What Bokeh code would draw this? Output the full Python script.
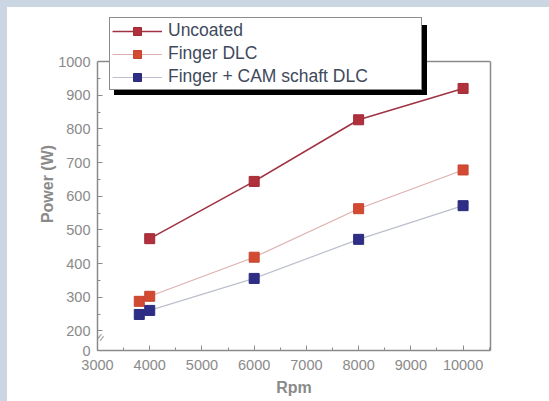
import math
from bokeh.plotting import figure
from bokeh.models import (ColumnDataSource, Legend, LegendItem, FixedTicker, Label, Spacer,
                          LinearAxis, Span, Title)
from bokeh.layouts import row, column
from bokeh.embed import file_html
from bokeh.resources import INLINE

# ---- data ----
rpm_uncoated = [4000, 6000, 8000, 10000]
power_uncoated = [474, 644, 827, 920]
rpm_finger = [3800, 4000, 6000, 8000, 10000]
power_finger_dlc = [288, 303, 419, 563, 678]
power_finger_cam = [249, 261, 356, 472, 572]
series_names = ["Uncoated", "Finger DLC", "Finger + CAM schaft DLC"]
y_ticks = [142, 200, 300, 400, 500, 600, 700, 800, 900, 1000]
x_ticks = [3000, 4000, 5000, 6000, 7000, 8000, 9000, 10000]

GRAY = "#8a8a8a"
STRIP = "#cad6e2"

Y_MIN, Y_MAX = 142, 1000
# frame extends above the axis top so the legend (which overlaps the axes box) is not clipped
FRAME_TOP, AXIS_TOP, FRAME_BOTTOM = 10, 54, 343
y_end = Y_MAX + (AXIS_TOP - FRAME_TOP) * (Y_MAX - Y_MIN) / (FRAME_BOTTOM - AXIS_TOP)

p = figure(width=542, height=394, x_range=(3000, 10525), y_range=(Y_MIN, y_end),
           output_backend="svg", toolbar_location=None,
           min_border_left=90, min_border_right=59, min_border_top=FRAME_TOP,
           min_border_bottom=394 - FRAME_BOTTOM)
p.background_fill_color = "white"
p.border_fill_color = "white"
p.outline_line_color = None
p.xgrid.visible = False
p.ygrid.visible = False

src_u = ColumnDataSource(dict(x=rpm_uncoated, y=power_uncoated))
src_f = ColumnDataSource(dict(x=rpm_finger, y=power_finger_dlc))
src_c = ColumnDataSource(dict(x=rpm_finger, y=power_finger_cam))

l_u = p.line("x", "y", source=src_u, line_color="#a03343", line_width=1.6)
m_u = p.scatter("x", "y", source=src_u, marker="square", size=10, fill_color="#b0303c", line_color="#a02a36")
l_f = p.line("x", "y", source=src_f, line_color="#ddb0b0", line_width=1.2)
m_f = p.scatter("x", "y", source=src_f, marker="square", size=10, fill_color="#d24a32", line_color="#c84430")
l_c = p.line("x", "y", source=src_c, line_color="#bcc0cc", line_width=1.2)
m_c = p.scatter("x", "y", source=src_c, marker="square", size=10, fill_color="#2e2e86", line_color="#2a2a7a")

# right side of the box
rax = LinearAxis(bounds=(Y_MIN, Y_MAX), ticker=FixedTicker(ticks=[], minor_ticks=[]),
                 axis_line_color=GRAY, axis_line_width=1.5)
p.add_layout(rax, "right")

# axes
for ax in (p.xaxis[0], p.yaxis[0]):
    ax.axis_line_color = GRAY
    ax.axis_line_width = 1.5
    ax.major_tick_line_color = GRAY
    ax.minor_tick_line_color = GRAY
    ax.major_tick_in = 5
    ax.major_tick_out = 0
    ax.minor_tick_in = 3
    ax.minor_tick_out = 0
    ax.major_label_text_color = GRAY
    ax.major_label_text_font = "Liberation Sans"
    ax.major_label_text_font_size = "14.5px"

p.xaxis[0].ticker = FixedTicker(ticks=x_ticks, minor_ticks=[x + 500 for x in x_ticks[:-1]] + [10500])
p.xaxis[0].major_label_standoff = 9
p.yaxis[0].ticker = FixedTicker(ticks=y_ticks, minor_ticks=[v + 50 for v in y_ticks[1:-1]])
p.yaxis[0].bounds = (Y_MIN, Y_MAX)
p.yaxis[0].major_label_overrides = {142: "0"}
p.yaxis[0].major_label_standoff = 7

# top side of the box
p.add_layout(Span(location=Y_MAX, dimension="width", line_color=GRAY, line_width=1.5))

# axis titles
p.add_layout(Title(text="Rpm", align="center", offset=27, standoff=9,
                   text_font="Liberation Sans", text_font_style="bold",
                   text_font_size="16px", text_color=GRAY), "below")
p.add_layout(Title(text="Power (W)", align="center", offset=-27, standoff=0,
                   text_font="Liberation Sans", text_font_style="bold",
                   text_font_size="16px", text_color=GRAY), "left")

# axis break mark
p.add_layout(Label(x=3, y=13, x_units="screen", y_units="screen", text="=",
                   angle=0.9, text_align="center", text_baseline="middle",
                   text_font="Liberation Sans", text_font_size="12px", text_color=GRAY))

# legend shadow (black copy of the legend box, behind it)
dummy = ColumnDataSource(dict(x=[], y=[]))
sh_l = p.line("x", "y", source=dummy, line_color="black")
shadow = Legend(items=[LegendItem(label=" ", renderers=[sh_l]) for _ in series_names],
                location=(17, 255), padding=2, spacing=2, label_height=20, glyph_width=50,
                glyph_height=20, label_standoff=6, label_width=251,
                label_text_font="Liberation Sans", label_text_font_size="17.5px",
                label_text_color="black", background_fill_color="black", background_fill_alpha=1,
                border_line_color="black", border_line_width=1.5, margin=0)
p.add_layout(shadow, "center")

legend = Legend(items=[LegendItem(label=series_names[0], renderers=[l_u, m_u]),
                       LegendItem(label=series_names[1], renderers=[l_f, m_f]),
                       LegendItem(label=series_names[2], renderers=[l_c, m_c])],
                location=(12, 260), padding=2, spacing=2, label_height=20, glyph_width=50,
                glyph_height=20, label_standoff=6, label_width=251,
                label_text_font="Liberation Sans", label_text_font_size="17.5px",
                label_text_color="#404a5c", background_fill_color="white", background_fill_alpha=1,
                border_line_color="#1a1a1a", border_line_width=1.8, margin=0)
p.add_layout(legend, "center")

left_strip = Spacer(width=7, height=401, styles={"background-color": STRIP})
top_strip = Spacer(width=542, height=7, styles={"background-color": STRIP})
layout = row(left_strip, column(top_strip, p, spacing=0), spacing=0)

open("out.html", "w").write(file_html(layout, INLINE))
